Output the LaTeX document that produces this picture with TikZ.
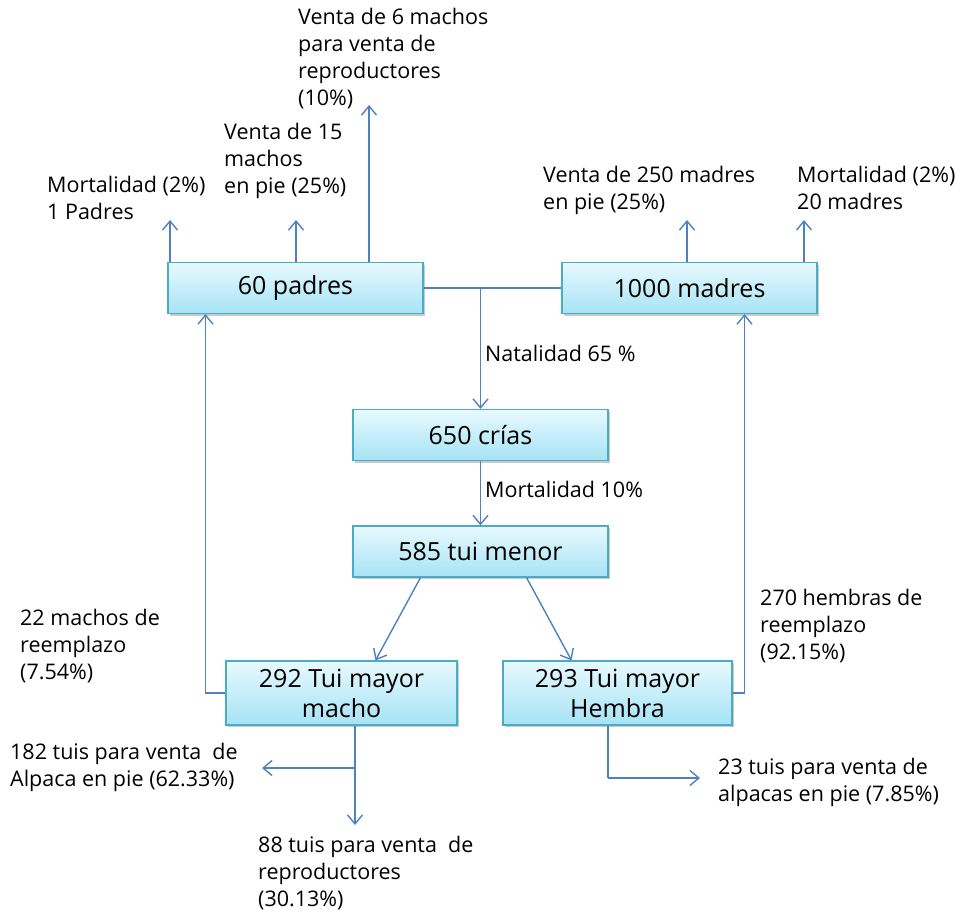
\documentclass[tikz,border=0pt]{standalone}
\usepackage{fontspec}
\setmainfont{Open Sans}
\usetikzlibrary{arrows.meta,shadows}
\definecolor{lineblue}{HTML}{4F81BD}
\definecolor{boxborder}{HTML}{4BACC6}
\definecolor{boxtop}{HTML}{E8F9FE}
\definecolor{boxbot}{HTML}{A6E3F5}
\tikzset{
  box/.style={draw=boxborder, line width=1.2pt, top color=boxtop, bottom color=boxbot,
    minimum width=255pt, minimum height=51pt, align=center, inner sep=0pt,
    font=\fontsize{25}{30}\selectfont,
    drop shadow={shadow xshift=1.5pt, shadow yshift=-2pt, opacity=0.35, fill=black!60}},
  lbl/.style={anchor=north west, inner sep=0pt, align=left, font=\fontsize{21.5}{27}\selectfont, text=black},
  conn/.style={draw=lineblue, line width=1.4pt},
  arr/.style={conn, -{Straight Barb[length=9pt,width=15pt]}}
}
\begin{document}
\begin{tikzpicture}[x=1pt,y=-1pt]
\useasboundingbox (0,0) rectangle (964,913);
% boxes
\node[box] (p) at (295.5,288) {60 padres};
\node[box] (m) at (689.5,288) {1000 madres};
\node[box] (c) at (480.5,435) {650 crías};
\node[box] (t) at (480.5,551.5) {585 tui menor};
\node[box, minimum width=231pt, minimum height=64pt] (tm) at (341.5,693) {292 Tui mayor\\macho};
\node[box, minimum width=229pt, minimum height=64pt] (th) at (617.5,693) {293 Tui mayor\\Hembra};
% labels
\node[lbl] (l1) at (298,8) {Venta de 6 machos\\para venta de\\reproductores\\(10\%)};
\node[lbl] (l2) at (224,123) {Venta de 15\\machos\\en pie (25\%)};
\node[lbl] (l3) at (47,176) {Mortalidad (2\%)\\1 Padres};
\node[lbl] (l4) at (543,166) {Venta de 250 madres\\en pie (25\%)};
\node[lbl] (l5) at (797,166) {Mortalidad (2\%)\\20 madres};
\node[lbl] (l6) at (485,345) {Natalidad 65 \%};
\node[lbl] (l7) at (485,481) {Mortalidad 10\%};
\node[lbl] (l8) at (20,609) {22 machos de\\reemplazo\\(7.54\%)};
\node[lbl] (l9) at (760,589) {270 hembras de\\reemplazo\\(92.15\%)};
\node[lbl] (l10) at (10,743) {182 tuis para venta\ \ de\\Alpaca en pie (62.33\%)};
\node[lbl] (l11) at (258,836) {88 tuis para venta\ \ de\\reproductores\\(30.13\%)};
\node[lbl] (l12) at (718,758) {23 tuis para venta de\\alpacas en pie (7.85\%)};
% coordinates
\coordinate (j) at (480.5,288);
\coordinate (pa1) at (170,220);
\coordinate (pa2) at (296,220);
\coordinate (pa3) at (369,105);
\coordinate (ma1) at (687,220);
\coordinate (ma2) at (804,220);
\coordinate (b1) at (355,768);
\coordinate (b1e) at (262,768);
\coordinate (b2) at (355,825);
\coordinate (h1) at (608,778);
\coordinate (h1e) at (700,778);
% connectors
\draw[conn] (p.east) -- (m.west);
\draw[arr] (j) -- (c.north);
\draw[arr] (c.south) -- (t.north);
\draw[arr] ([xshift=-60pt]t.south) -- ([xshift=34pt]tm.north);
\draw[arr] ([xshift=46pt]t.south) -- ([xshift=-46pt]th.north);
\draw[arr] (tm.west) -| ([xshift=-90pt]p.south);
\draw[arr] (th.east) -| ([xshift=55pt]m.south);
\draw[arr] (p.north -| pa1) -- (pa1);
\draw[arr] (p.north -| pa2) -- (pa2);
\draw[arr] (p.north -| pa3) -- (pa3);
\draw[arr] (m.north -| ma1) -- (ma1);
\draw[arr] (m.north -| ma2) -- (ma2);
\draw[arr] (tm.south -| b2) -- (b2);
\draw[arr] (b1) -- (b1e);
\draw[conn] (th.south -| h1) -- (h1);
\draw[arr] (h1) -- (h1e);
\end{tikzpicture}
\end{document}
